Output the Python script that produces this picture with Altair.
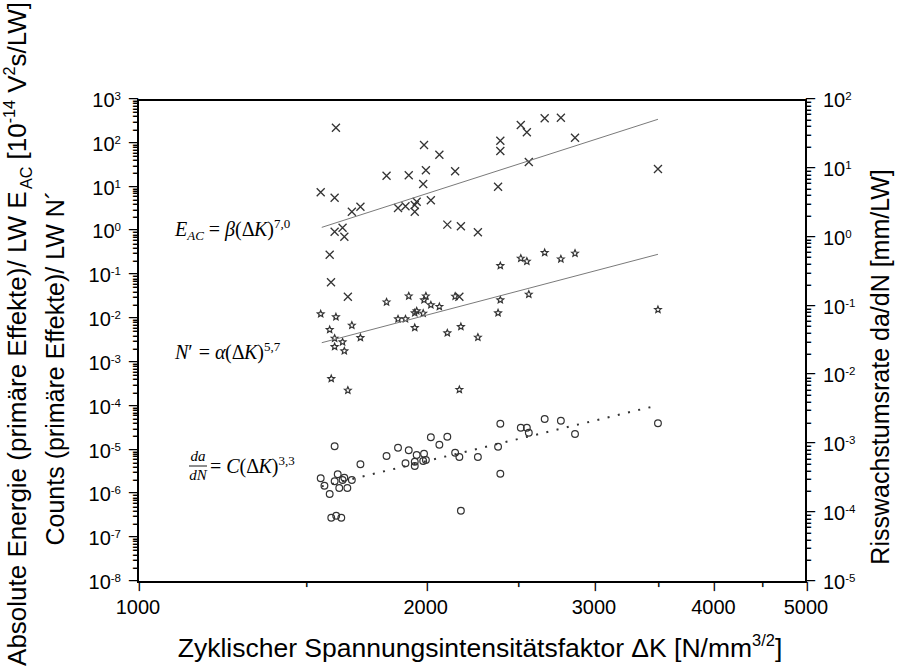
import math

import altair as alt
import pandas as pd

SANS = "Liberation Sans"
SERIF = "Liberation Serif"
MONO = "DejaVu Sans Mono"

# Cyclic stress intensity range dK [N/mm^3/2] and absolute AE energy per load cycle
energy_dk = [1611, 1553, 1606, 1674, 1709, 1606, 1637, 1644, 1587, 1820,
             1920, 1871, 1905, 1948, 1957, 1948, 2025, 1988, 2001, 1992,
             2067, 2147, 2107, 2177, 2268, 2394, 2394, 2381, 2515, 2552,
             2564, 2664, 2770, 2866, 3500, 1592, 1658, 2169]
energy_val = [233, 7.83, 5.89, 2.82, 3.67, 0.987, 1.22, 0.759, 0.295, 18.7,
              19.1, 3.43, 3.75, 4.02, 4.78, 2.82, 5.14, 12.1, 24.9, 94,
              56.5, 23.6, 1.43, 1.31, 0.956, 118, 68.6, 10.5, 269, 183,
              38.5, 382, 394, 138, 26.6, 0.0691, 0.0324, 0.0324]

# AE counts per load cycle
counts_dk = [1553, 1611, 1587, 1606, 1606, 1637, 1644, 1674, 1709, 1593,
             1658, 1820, 1871, 1905, 1920, 1948, 1948, 1957, 1988, 1992,
             2001, 2025, 2067, 2107, 2147, 2177, 2169, 2268, 2381, 2394,
             2394, 2515, 2552, 2564, 2664, 2770, 2866, 3500]
counts_val = [0.0131, 0.0112, 0.00573, 0.00364, 0.00234, 0.0030, 0.00187, 0.00722, 0.00376, 0.000436,
              0.000237, 0.0245, 0.01005, 0.01005, 0.0336, 0.00636, 0.0138, 0.0153, 0.01355, 0.0273,
              0.0336, 0.021, 0.0192, 0.00482, 0.0331, 0.0067, 0.000245, 0.00384, 0.0138, 0.0273,
              0.165, 0.244, 0.208, 0.0368, 0.3275, 0.235, 0.317, 0.0164]

# crack growth rate da/dN [mm/LW] (right axis)
rate_dk = [1553, 1567, 1587, 1606, 1618, 1624, 1637, 1644, 1656, 1674,
           1606, 1593, 1612, 1632, 1709, 1820, 1871, 1905, 1920, 1948,
           1948, 1957, 1988, 1992, 2001, 2025, 2067, 2107, 2147, 2169,
           2177, 2268, 2381, 2394, 2394, 2515, 2552, 2564, 2664, 2770,
           2866, 3500]
rate_val = [3.21e-4, 2.50e-4, 1.90e-4, 2.90e-4, 3.67e-4, 2.32e-4, 3.03e-4, 3.27e-4, 2.32e-4, 3.03e-4,
            9.35e-4, 8.59e-5, 9.18e-5, 8.59e-5, 5.12e-4, 6.76e-4, 8.92e-4, 5.29e-4, 8.18e-4, 5.59e-4,
            4.84e-4, 6.99e-4, 5.72e-4, 7.30e-4, 5.91e-4, 1.263e-3, 9.86e-4, 1.288e-3, 7.55e-4, 6.54e-4,
            1.085e-4, 6.54e-4, 9.22e-4, 3.74e-4, 1.99e-3, 1.74e-3, 1.74e-3, 1.473e-3, 2.33e-3, 2.20e-3,
            1.41e-3, 2.02e-3]

# power-law fits (end points of each fitted line)
fit_dk = [1557, 3500]
fit_energy = [1.24, 363.0]      # E_AC ~ dK^7.0
fit_counts = [0.00289, 0.301]   # N' ~ dK^5.7
fit_rate = [0.000245, 0.00368]  # da/dN ~ dK^3.3

# axis ticks
X_MIN, X_MAX = 1000, 5000
x_major = [1000, 2000, 3000, 4000, 5000]
x_minor = [1500, 2500, 3500, 4500]
left_exps = list(range(-8, 4))
right_exps = list(range(-5, 3))
left_minor = [m * 10.0 ** e for e in range(-8, 3) for m in range(2, 10)]
right_minor = [m * 10.0 ** e for e in range(-5, 2) for m in range(2, 10)]

W, H = 668, 482
MAJOR, MINOR = 9, 5

# advance widths (per 1000 em) used to lay out mixed-size text runs
SANS_W = {' ': 278, 'A': 667, 'C': 722, 'E': 667, 'K': 667, 'L': 556, 'N': 722, 'R': 722,
          'S': 667, 'V': 667, 'W': 944, 'Z': 611, 'a': 556, 'b': 556, 'c': 500, 'd': 556,
          'e': 556, 'f': 278, 'g': 556, 'h': 556, 'i': 222, 'k': 500, 'l': 222, 'm': 833,
          'n': 556, 'o': 556, 'p': 556, 'r': 333, 's': 500, 't': 278, 'u': 556, 'w': 722,
          'y': 500, 'z': 500, 'ä': 556, '(': 333, ')': 333, '[': 278, ']': 278, '/': 278,
          '-': 333, '´': 333, 'Δ': 668}
SERIF_W = {' ': 250, '=': 564, '(': 333, ')': 333, 'Δ': 612, ',': 250, '′': 275}
SERIF_IT_W = {'E': 611, 'A': 611, 'C': 667, 'K': 667, 'N': 667, 'd': 500, 'a': 500,
              'β': 500, 'α': 500}
MONO_ADVANCE = 0.602  # every DejaVu Sans Mono glyph, incl. box-drawing lines


def text_width(s, table, size):
    return sum(table.get(c, 556 if table is SANS_W else 500) for c in s) * size / 1000.0


def runs(segments, x, y, size, angle=0, center=True, small=0.62):
    """Lay out a line of text made of normal / subscript / superscript runs."""
    sizes, widths = [], []
    for text, role, font, style, table in segments:
        fs = size * (small if role != 'n' else 1.0)
        sizes.append(fs)
        widths.append(text_width(text, table, fs))
    cum = -sum(widths) / 2 if center else 0.0
    layers = []
    for (text, role, font, style, table), fs, w in zip(segments, sizes, widths):
        lead = len(text) - len(text.lstrip(' '))
        shown = text.strip(' ')
        dy = {'n': 0, 'sub': 0.22 * size, 'sup': -0.42 * size}[role]
        if shown:
            layers.append(
                alt.Chart(pd.DataFrame({'label': [shown]}))
                .mark_text(align='left', baseline='alphabetic', angle=angle,
                           dx=cum + text_width(' ' * lead, table, fs), dy=dy,
                           fontSize=fs, font=font, fontStyle=style, color='black')
                .encode(x=alt.value(x), y=alt.value(y), text='label:N')
            )
        cum += w
    return layers


def star_path(inner=0.45):
    pts = []
    for k in range(10):
        r = 1.0 if k % 2 == 0 else inner
        a = math.radians(-90 + 36 * k)
        pts.append(f"{r * math.cos(a):.3f},{r * math.sin(a):.3f}")
    return "M" + "L".join(pts) + "Z"


X_PATH = "M-1,-1L1,1M-1,1L1,-1"
STAR_PATH = star_path()

x_scale = alt.Scale(type='log', domain=[X_MIN, X_MAX], nice=False)
yl_scale = alt.Scale(type='log', domain=[1e-8, 1e3], nice=False)
yr_scale = alt.Scale(type='log', domain=[1e-5, 1e2], nice=False)
XS = dict(scale=x_scale, axis=None)
YL = dict(scale=yl_scale, axis=None)
YR = dict(scale=yr_scale, axis=None)

df_energy = pd.DataFrame({'dk': energy_dk, 'val': energy_val})
df_counts = pd.DataFrame({'dk': counts_dk, 'val': counts_val})
df_rate = pd.DataFrame({'dk': rate_dk, 'val': rate_val})
df_fit_e = pd.DataFrame({'dk': fit_dk, 'val': fit_energy})
df_fit_c = pd.DataFrame({'dk': fit_dk, 'val': fit_counts})
df_fit_r = pd.DataFrame({'dk': fit_dk, 'val': fit_rate})

MARK = '#333333'

crosses = alt.Chart(df_energy).mark_point(
    shape=X_PATH, filled=False, color=MARK, strokeWidth=1.3, size=64, opacity=1
).encode(x=alt.X('dk:Q', **XS), y=alt.Y('val:Q', **YL))

stars = alt.Chart(df_counts).mark_point(
    shape=STAR_PATH, filled=False, color=MARK, strokeWidth=1.2, size=50, opacity=1
).encode(x=alt.X('dk:Q', **XS), y=alt.Y('val:Q', **YL))

fit_e_line = alt.Chart(df_fit_e).mark_line(color='#7a7a7a', strokeWidth=1).encode(
    x=alt.X('dk:Q', **XS), y=alt.Y('val:Q', **YL))
fit_c_line = alt.Chart(df_fit_c).mark_line(color='#7a7a7a', strokeWidth=1).encode(
    x=alt.X('dk:Q', **XS), y=alt.Y('val:Q', **YL))

circles = alt.Chart(df_rate).mark_point(
    shape='circle', filled=False, color=MARK, strokeWidth=1.2, size=45, opacity=1
).encode(x=alt.X('dk:Q', **XS), y=alt.Y('val:Q', **YR))
fit_r_line = alt.Chart(df_fit_r).mark_line(
    color=MARK, strokeWidth=2, strokeDash=[2, 8.5]
).encode(x=alt.X('dk:Q', **XS), y=alt.Y('val:Q', **YR))


# ---- tick marks -------------------------------------------------------
# Each tick is a box-drawing line glyph whose advance equals the tick length,
# anchored on the plot edge and pointing outwards.
def glyph_ticks(values, channel, scale_kw, fixed, length, align, angle=0, heavy=False):
    glyph = '━' if heavy else '─'
    df = pd.DataFrame({'v': values, 'g': [glyph] * len(values)})
    mark = alt.Chart(df).mark_text(align=align, baseline='middle', font=MONO,
                                   fontSize=length / MONO_ADVANCE, angle=angle, color='black')
    if channel == 'y':
        return mark.encode(y=alt.Y('v:Q', **scale_kw), x=alt.value(fixed), text='g:N')
    return mark.encode(x=alt.X('v:Q', **scale_kw), y=alt.value(fixed), text='g:N')


ticks = [
    glyph_ticks(x_major, 'x', XS, H, MAJOR, 'left', angle=90),
    glyph_ticks(x_minor, 'x', XS, H, MINOR, 'left', angle=90, heavy=True),
    glyph_ticks([10.0 ** e for e in left_exps], 'y', YL, 0, MAJOR, 'right'),
    glyph_ticks(left_minor, 'y', YL, 0, MINOR, 'right', heavy=True),
    glyph_ticks([10.0 ** e for e in right_exps], 'y', YR, W, MAJOR, 'left'),
    glyph_ticks(right_minor, 'y', YR, W, MINOR, 'left', heavy=True),
]

# dK tick labels
x_labels = alt.Chart(pd.DataFrame({'t': x_major, 'label': [str(v) for v in x_major]})).mark_text(
    align='center', baseline='alphabetic', font=SANS, fontSize=20, color='black'
).encode(x=alt.X('t:Q', **XS), y=alt.value(H + 32), text='label:N')

# decade labels 10^n with raised exponents
df_left = pd.DataFrame({'v': [10.0 ** e for e in left_exps], 'e': left_exps,
                        'base': ['10'] * len(left_exps), 'sup': [str(e) for e in left_exps]})
df_right = pd.DataFrame({'v': [10.0 ** e for e in right_exps], 'e': right_exps,
                         'base': ['10'] * len(right_exps), 'sup': [str(e) for e in right_exps]})
BASE_FS, SUP_FS = 20, 11.5


def left_base(df, exp_w):
    return alt.Chart(df).mark_text(align='right', baseline='middle', font=SANS,
                                   fontSize=BASE_FS, color='black', dy=1).encode(
        x=alt.value(-17 - exp_w), y=alt.Y('v:Q', **YL), text='base:N')


left_base_pos = left_base(df_left[df_left.e >= 0], text_width('0', SANS_W, SUP_FS))
left_base_neg = left_base(df_left[df_left.e < 0], text_width('-0', SANS_W, SUP_FS))
left_sup = alt.Chart(df_left).mark_text(align='right', baseline='alphabetic', font=SANS,
                                        fontSize=SUP_FS, color='black').encode(
    x=alt.value(-17), y=alt.Y('v:Q', **YL), text='sup:N')

right_base = alt.Chart(df_right).mark_text(align='left', baseline='middle', font=SANS,
                                           fontSize=BASE_FS, color='black', dy=1).encode(
    x=alt.value(W + 17), y=alt.Y('v:Q', **YR), text='base:N')
right_sup = alt.Chart(df_right).mark_text(align='left', baseline='alphabetic', font=SANS,
                                          fontSize=SUP_FS, color='black').encode(
    x=alt.value(W + 17 + text_width('10', SANS_W, BASE_FS)),
    y=alt.Y('v:Q', **YR), text='sup:N')

# axis titles
S = (SANS, 'normal', SANS_W)
title_left1 = runs([("Absolute Energie (primäre Effekte)/ LW E", 'n', *S), ("AC", 'sub', *S),
                    (" [10", 'n', *S), ("-14", 'sup', *S), (" V", 'n', *S), ("2", 'sup', *S),
                    ("s/LW]", 'n', *S)], x=-112, y=233, size=26, angle=270)
title_left2 = runs([("Counts (primäre Effekte)/ LW N´", 'n', *S)], x=-74, y=267, size=25, angle=270)
title_right = runs([("Risswachstumsrate da/dN [mm/LW]", 'n', *S)], x=W + 83, y=266, size=25, angle=270)
title_bottom = runs([("Zyklischer Spannungsintensitätsfaktor ΔK [N/mm", 'n', *S), ("3/2", 'sup', *S),
                     ("]", 'n', *S)], x=342, y=557, size=26.5)

# fit equations
EFS = 20
R = (SERIF, 'normal', SERIF_W)
I = (SERIF, 'italic', SERIF_IT_W)
eq_energy = runs([("E", 'n', *I), ("AC", 'sub', *I), (" = ", 'n', *R), ("β", 'n', *I),
                  ("(Δ", 'n', *R), ("K", 'n', *I), (")", 'n', *R), ("7,0", 'sup', *R)],
                 x=37, y=136, size=EFS, center=False, small=0.65)
eq_counts = runs([("N", 'n', *I), ("′", 'n', *R), (" = ", 'n', *R), ("α", 'n', *I),
                  ("(Δ", 'n', *R), ("K", 'n', *I), (")", 'n', *R), ("5,7", 'sup', *R)],
                 x=37, y=259, size=EFS, center=False, small=0.65)
eq_rate = runs([("= ", 'n', *R), ("C", 'n', *I), ("(Δ", 'n', *R), ("K", 'n', *I),
                (")", 'n', *R), ("3,3", 'sup', *R)],
               x=72, y=373, size=EFS, center=False, small=0.65)
frac_top = runs([("da", 'n', *I)], x=60, y=361, size=15)
frac_bot = runs([("dN", 'n', *I)], x=60, y=380, size=15)
frac_bar = alt.Chart(pd.DataFrame({'k': [0]})).mark_rule(color='black', strokeWidth=0.9).encode(
    x=alt.value(51), x2=alt.value(69), y=alt.value(366))

chart = alt.layer(
    crosses, circles, fit_e_line, stars, fit_c_line, fit_r_line,
    *ticks, x_labels,
    left_base_pos, left_base_neg, left_sup, right_base, right_sup,
    *title_left1, *title_left2, *title_right, *title_bottom,
    *eq_energy, *eq_counts, *eq_rate, *frac_top, *frac_bot, frac_bar,
).resolve_scale(y='independent').properties(
    width=W, height=H,
    autosize=alt.AutoSizeParams(type='none'),
    padding={'left': 138, 'top': 100, 'right': 93, 'bottom': 84},
    background='white',
).configure_view(stroke='black', strokeWidth=2)

chart.save("out.html", embed_options={"renderer": "svg", "actions": False})
